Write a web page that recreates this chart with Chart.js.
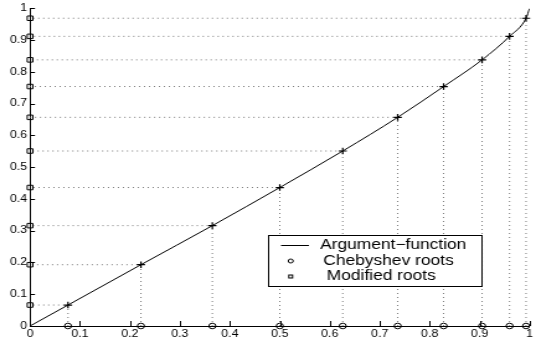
<!DOCTYPE html>
<html>
<head>
<meta charset="utf-8">
<script src="https://cdn.jsdelivr.net/npm/chart.js@4.4.1/dist/chart.umd.min.js"></script>
<style>
  html, body { margin: 0; padding: 0; background: #fff; }
  canvas { display: block; }
</style>
</head>
<body>
<!-- drawn narrow and stretched wide, like the original export -->
<canvas id="plot" width="432" height="343" style="width:536px;height:343px"></canvas>
<script>
const chebyshevRoots = [0.076, 0.222, 0.365, 0.5, 0.626, 0.736, 0.828, 0.905, 0.96, 0.993];
const modifiedRoots = [0.066, 0.193, 0.316, 0.436, 0.551, 0.657, 0.754, 0.838, 0.912, 0.969];
const functionX = [0, 0.076, 0.222, 0.365, 0.5, 0.626, 0.736, 0.828, 0.905, 0.96, 0.993, 1];
const functionY = [0, 0.066, 0.193, 0.316, 0.436, 0.551, 0.657, 0.754, 0.838, 0.912, 0.969, 1];
const xTicks = [0, 0.1, 0.2, 0.3, 0.4, 0.5, 0.6, 0.7, 0.8, 0.9, 1];
const yTicks = [0, 0.1, 0.2, 0.3, 0.4, 0.5, 0.6, 0.7, 0.8, 0.9, 1];
const legendLabels = ['Argument\u2212function', 'Chebyshev roots', 'Modified roots'];

const FONT = '"Liberation Sans", Arial, Helvetica, sans-serif';

// L shaped dotted guides: x axis -> curve -> y axis, broken by a null
const guides = [];
chebyshevRoots.forEach((x, i) => {
    guides.push({x: x, y: 0}, {x: x, y: modifiedRoots[i]}, {x: 0, y: modifiedRoots[i]}, {x: x, y: null});
});

const inwardTicks = {
    id: 'inwardTicks',
    afterDraw(chart) {
        const ctx = chart.ctx;
        const xs = chart.scales.x, ys = chart.scales.y;
        const a = chart.chartArea;
        ctx.save();
        ctx.strokeStyle = '#000';
        ctx.lineWidth = 1;
        ctx.beginPath();
        xTicks.forEach(v => {
            const px = Math.round(xs.getPixelForValue(v)) + 0.5;
            ctx.moveTo(px, a.bottom);
            ctx.lineTo(px, a.bottom - 5);
        });
        yTicks.forEach(v => {
            const py = Math.round(ys.getPixelForValue(v)) + 0.5;
            ctx.moveTo(a.left, py);
            ctx.lineTo(a.left + 4, py);
        });
        ctx.stroke();
        ctx.restore();
    }
};

const boxLegend = {
    id: 'boxLegend',
    afterDraw(chart) {
        const ctx = chart.ctx;
        ctx.save();
        ctx.fillStyle = '#fff';
        ctx.strokeStyle = '#000';
        ctx.lineWidth = 1;
        ctx.fillRect(216.5, 235.5, 172, 51);
        ctx.strokeRect(216.5, 235.5, 172, 51);

        const rows = [245.5, 261, 276.5];
        ctx.beginPath();
        ctx.moveTo(226.5, rows[0]);
        ctx.lineTo(249, rows[0]);
        ctx.stroke();
        ctx.beginPath();
        ctx.arc(234.3, rows[1], 2, 0, Math.PI * 2);
        ctx.stroke();
        ctx.strokeRect(232.8, rows[2] - 1.5, 3, 3);

        ctx.fillStyle = '#000';
        ctx.font = '14px ' + FONT;
        ctx.textBaseline = 'middle';
        ctx.textAlign = 'left';
        ctx.fillText(legendLabels[0], 258, rows[0]);
        ctx.fillText(legendLabels[1], 260.6, rows[1]);
        ctx.fillText(legendLabels[2], 263.3, rows[2]);
        ctx.restore();
    }
};

new Chart(document.getElementById('plot').getContext('2d'), {
    type: 'scatter',
    data: {
        datasets: [
            {
                label: legendLabels[0],
                data: functionX.map((x, i) => ({x: x, y: functionY[i]})),
                showLine: true,
                cubicInterpolationMode: 'monotone',
                borderColor: '#000',
                borderWidth: 1,
                pointRadius: 0
            },
            {
                label: 'nodes',
                data: chebyshevRoots.map((x, i) => ({x: x, y: modifiedRoots[i]})),
                pointStyle: 'cross',
                pointRadius: 3.3,
                pointBorderWidth: 1.2,
                pointBorderColor: '#000',
                clip: false
            },
            {
                label: legendLabels[1],
                data: chebyshevRoots.map(x => ({x: x, y: 0})),
                pointStyle: 'circle',
                pointRadius: 2.8,
                pointBorderWidth: 1,
                pointBorderColor: '#000',
                pointBackgroundColor: 'rgba(0,0,0,0)',
                clip: false
            },
            {
                label: legendLabels[2],
                data: modifiedRoots.map(y => ({x: 0, y: y})),
                pointStyle: 'rect',
                pointRadius: 3.2,
                pointBorderWidth: 1,
                pointBorderColor: '#000',
                pointBackgroundColor: 'rgba(0,0,0,0)',
                clip: false
            },
            {
                label: 'guides',
                data: guides,
                showLine: true,
                spanGaps: false,
                borderColor: '#7a7a7a',
                borderWidth: 1,
                borderDash: [1, 3],
                pointRadius: 0
            }
        ]
    },
    options: {
        responsive: false,
        animation: false,
        devicePixelRatio: 1,
        layout: {padding: {top: 6, right: 4.8, left: 0, bottom: 0}},
        plugins: {
            legend: {display: false},
            tooltip: {enabled: false}
        },
        scales: {
            x: {
                type: 'linear',
                min: 0,
                max: 1,
                afterBuildTicks: s => { s.ticks = xTicks.map(v => ({value: v})); },
                afterFit: s => { s.height = 17; },
                grid: {display: false, drawTicks: false},
                border: {display: true, color: '#000', width: 1},
                ticks: {
                    autoSkip: false,
                    maxRotation: 0,
                    padding: 2,
                    color: '#000',
                    font: {family: FONT, size: 10},
                    callback: v => String(v)
                }
            },
            y: {
                type: 'linear',
                min: 0,
                max: 1,
                afterBuildTicks: s => { s.ticks = yTicks.map(v => ({value: v})); },
                afterFit: s => { s.width = 24.2; },
                grid: {display: false, drawTicks: false},
                border: {display: true, color: '#000', width: 1},
                ticks: {
                    autoSkip: false,
                    padding: 2.4,
                    color: '#000',
                    font: {family: FONT, size: 10},
                    callback: v => String(v)
                }
            }
        }
    },
    plugins: [inwardTicks, boxLegend]
});
</script>
</body>
</html>
